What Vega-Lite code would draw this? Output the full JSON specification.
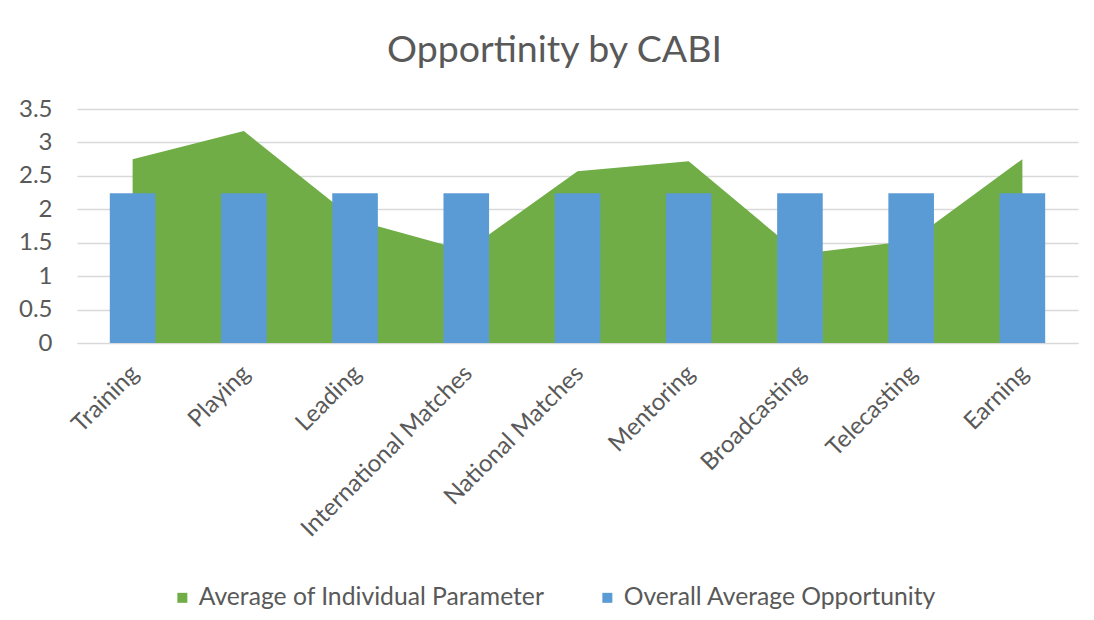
{
  "$schema": "https://vega.github.io/schema/vega-lite/v6.json",
  "width": 1001,
  "height": 234,
  "autosize": {"type": "none"},
  "padding": {"left": 77, "top": 109, "right": 16, "bottom": 277},
  "background": "white",
  "config": {"view": {"stroke": null}},
  "title": {"text": "Opportinity by CABI", "fontSize": 37.5, "font": "Lato", "fontWeight": "normal", "color": "#595959", "anchor": "middle", "dx": -23, "offset": 28},
  "data": {"values": [
    {"category": "Training", "series": "Average of Individual Parameter", "value": 2.75},
    {"category": "Playing", "series": "Average of Individual Parameter", "value": 3.17},
    {"category": "Leading", "series": "Average of Individual Parameter", "value": 1.84},
    {"category": "International Matches", "series": "Average of Individual Parameter", "value": 1.38},
    {"category": "National Matches", "series": "Average of Individual Parameter", "value": 2.57},
    {"category": "Mentoring", "series": "Average of Individual Parameter", "value": 2.72},
    {"category": "Broadcasting", "series": "Average of Individual Parameter", "value": 1.33},
    {"category": "Telecasting", "series": "Average of Individual Parameter", "value": 1.53},
    {"category": "Earning", "series": "Average of Individual Parameter", "value": 2.75},
    {"category": "Training", "series": "Overall Average Opportunity", "value": 2.24},
    {"category": "Playing", "series": "Overall Average Opportunity", "value": 2.24},
    {"category": "Leading", "series": "Overall Average Opportunity", "value": 2.24},
    {"category": "International Matches", "series": "Overall Average Opportunity", "value": 2.24},
    {"category": "National Matches", "series": "Overall Average Opportunity", "value": 2.24},
    {"category": "Mentoring", "series": "Overall Average Opportunity", "value": 2.24},
    {"category": "Broadcasting", "series": "Overall Average Opportunity", "value": 2.24},
    {"category": "Telecasting", "series": "Overall Average Opportunity", "value": 2.24},
    {"category": "Earning", "series": "Overall Average Opportunity", "value": 2.24}
  ]},
  "encoding": {
    "color": {"field": "series", "type": "nominal",
      "scale": {"domain": ["Average of Individual Parameter", "Overall Average Opportunity"], "range": ["#70AD47", "#5B9BD5"]},
      "legend": {"orient": "none", "legendX": 93, "legendY": 476, "direction": "horizontal", "title": null, "symbolType": "square", "symbolSize": 100, "symbolStrokeWidth": 0, "labelFont": "Lato", "labelFontSize": 24.7, "labelColor": "#595959", "labelLimit": 0, "columnPadding": 50, "labelOffset": 4}}
  },
  "layer": [
    {
      "transform": [{"filter": "datum.series === 'Average of Individual Parameter'"}],
      "mark": {"type": "area", "opacity": 1},
      "encoding": {
        "x": {"field": "category", "type": "nominal", "bandPosition": 0.5,
          "scale": {"domain": ["Training", "Playing", "Leading", "International Matches", "National Matches", "Mentoring", "Broadcasting", "Telecasting", "Earning"], "paddingInner": 0, "paddingOuter": 0},
          "axis": {"title": null, "labelAngle": -45, "ticks": false, "domainColor": "#d9d9d9", "labelFont": "Lato", "labelFontSize": 24, "labelColor": "#595959", "labelPadding": 18, "labelOffset": -6, "labelLimit": 0, "labelOverlap": false, "grid": false}},
        "y": {"field": "value", "type": "quantitative",
          "scale": {"domain": [0, 3.5], "nice": false},
          "axis": {"values": [0, 0.5, 1, 1.5, 2, 2.5, 3, 3.5], "format": "~g", "title": null, "domain": false, "ticks": false, "gridColor": "#d9d9d9", "gridWidth": 1.5, "labelFont": "Lato", "labelFontSize": 24, "labelColor": "#595959", "labelPadding": 25, "labelOverlap": false, "labelFlush": false}}
      }
    },
    {
      "transform": [{"filter": "datum.series === 'Overall Average Opportunity'"}],
      "mark": {"type": "bar", "width": {"band": 0.41}},
      "encoding": {
        "x": {"field": "category", "type": "nominal",
          "scale": {"domain": ["Training", "Playing", "Leading", "International Matches", "National Matches", "Mentoring", "Broadcasting", "Telecasting", "Earning"], "paddingInner": 0, "paddingOuter": 0},
          "axis": {"title": null, "labelAngle": -45, "ticks": false, "domainColor": "#d9d9d9", "labelFont": "Lato", "labelFontSize": 24, "labelColor": "#595959", "labelPadding": 18, "labelOffset": -6, "labelLimit": 0, "labelOverlap": false, "grid": false}},
        "y": {"field": "value", "type": "quantitative",
          "scale": {"domain": [0, 3.5], "nice": false},
          "axis": {"values": [0, 0.5, 1, 1.5, 2, 2.5, 3, 3.5], "format": "~g", "title": null, "domain": false, "ticks": false, "gridColor": "#d9d9d9", "gridWidth": 1.5, "labelFont": "Lato", "labelFontSize": 24, "labelColor": "#595959", "labelPadding": 25, "labelOverlap": false, "labelFlush": false}}
      }
    }
  ]
}
